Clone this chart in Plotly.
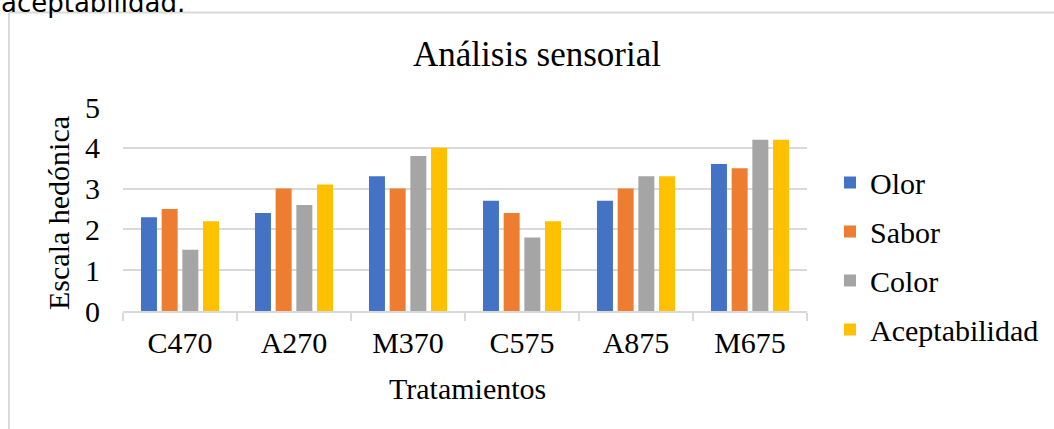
import plotly.graph_objects as go

# Sensory evaluation scores per treatment
tratamientos = ["C470", "A270", "M370", "C575", "A875", "M675"]
olor = [2.3, 2.4, 3.3, 2.7, 2.7, 3.6]
sabor = [2.5, 3.0, 3.0, 2.4, 3.0, 3.5]
color = [1.5, 2.6, 3.8, 1.8, 3.3, 4.2]
aceptabilidad = [2.2, 3.1, 4.0, 2.2, 3.3, 4.2]

series = [
    ("Olor", olor, "#4472C4"),
    ("Sabor", sabor, "#ED7D31"),
    ("Color", color, "#A5A5A5"),
    ("Aceptabilidad", aceptabilidad, "#FFC000"),
]

SERIF = "Liberation Serif, Times New Roman, serif"
GRID = "#d9d9d9"

W, H = 1054, 429
ML, MR, MT, MB = 123, 247, 107, 118
PW = W - ML - MR
PH = H - MT - MB


def px_to_paper_x(px):
    return (px - ML) / PW


def px_to_paper_y(py):
    return (H - MB - py) / PH


fig = go.Figure()
for name, vals, col in series:
    fig.add_trace(go.Bar(
        x=tratamientos, y=vals, name=name, legendgroup=name,
        marker=dict(color=col, line=dict(width=0)),
    ))

fig.update_layout(
    width=W, height=H, autosize=False,
    margin=dict(l=ML, r=MR, t=MT, b=MB, pad=0, autoexpand=False),
    paper_bgcolor="white", plot_bgcolor="white",
    barmode="group", bargap=0.274, bargroupgap=0.227,
    font=dict(family=SERIF, size=30, color="#000000"),
    title=dict(
        text="Análisis sensorial",
        font=dict(family=SERIF, size=35, color="#000000"),
        x=537 / W, xanchor="center", xref="container",
        y=1 - 54 / H, yanchor="middle", yref="container",
    ),
    xaxis=dict(
        type="category", showgrid=False, zeroline=False,
        showline=True, linecolor=GRID, linewidth=2,
        ticks="outside", tickson="boundaries", ticklen=8,
        tickcolor=GRID, tickwidth=2, ticklabelstandoff=4,
        tickfont=dict(family=SERIF, size=30, color="#000000"),
    ),
    yaxis=dict(
        range=[0, 5], dtick=1, tick0=0,
        showgrid=True, gridcolor=GRID, gridwidth=1.8,
        zeroline=False, showline=False, ticks="",
        ticklabelstandoff=22,
        tickfont=dict(family=SERIF, size=30, color="#000000"),
    ),
    legend=dict(
        x=px_to_paper_x(830), xanchor="left",
        y=px_to_paper_y(256), yanchor="middle",
        font=dict(family=SERIF, size=30, color="#000000"),
        tracegroupgap=7, traceorder="grouped",
        bgcolor="rgba(0,0,0,0)",
    ),
    showlegend=True,
)

# Axis titles
fig.add_annotation(
    text="Tratamientos", xref="paper", yref="paper",
    x=px_to_paper_x(467), y=px_to_paper_y(388),
    xanchor="center", yanchor="middle", showarrow=False,
    font=dict(family=SERIF, size=30, color="#000000"),
)
fig.add_annotation(
    text="Escala hedónica", xref="paper", yref="paper",
    x=px_to_paper_x(58), y=px_to_paper_y(213),
    xanchor="center", yanchor="middle", showarrow=False, textangle=-90,
    font=dict(family=SERIF, size=30, color="#000000"),
)

# Caption line from the surrounding document, running off the top edge
fig.add_annotation(
    text="aceptabilidad.", xref="paper", yref="paper",
    x=px_to_paper_x(-1), y=px_to_paper_y(2.5),
    xanchor="left", yanchor="middle", showarrow=False,
    font=dict(family="DejaVu Sans, Verdana, sans-serif", size=26, color="#000000"),
)

# Chart frame
fig.add_shape(type="line", xref="paper", yref="paper",
              x0=px_to_paper_x(9), x1=px_to_paper_x(1100),
              y0=px_to_paper_y(12.5), y1=px_to_paper_y(12.5),
              line=dict(color=GRID, width=2))
fig.add_shape(type="line", xref="paper", yref="paper",
              x0=px_to_paper_x(9), x1=px_to_paper_x(9),
              y0=px_to_paper_y(12.5), y1=px_to_paper_y(500),
              line=dict(color=GRID, width=2))

fig.write_html("out.html")
